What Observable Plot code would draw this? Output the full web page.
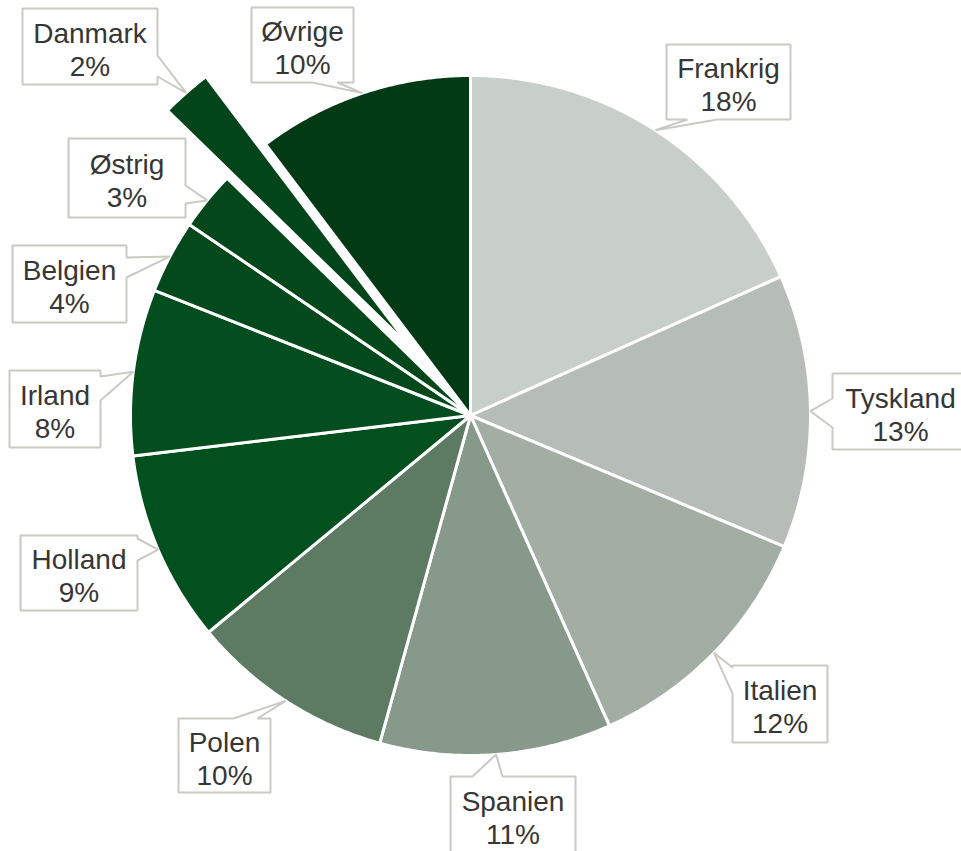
<!DOCTYPE html>
<html>
<head>
<meta charset="utf-8">
<script src="https://cdn.jsdelivr.net/npm/d3@7"></script>
<script src="https://cdn.jsdelivr.net/npm/@observablehq/plot@0.6"></script>
<style>
  html, body { margin: 0; padding: 0; background: #ffffff; }
  #chart svg { display: block; }
</style>
</head>
<body>
<div id="chart"></div>
<script>
// ---- data ----
const countries = ["Frankrig", "Tyskland", "Italien", "Spanien", "Polen", "Holland", "Irland", "Belgien", "Østrig", "Danmark", "Øvrige"];
const shares = [18.3, 13.0, 12.0, 11.0, 9.7, 9.1, 7.9, 3.5, 2.8, 2.4, 10.3];
const colors = ["#c8cec9", "#b6bdb6", "#a2ada3", "#86998a", "#5d7a63", "#03501f", "#044d1f", "#03491c", "#03471b", "#02451a", "#023a16"];
const exploded = ["Danmark"];

// ---- layout (pixels) ----
const W = 961, H = 851, CX = 470, CY = 415, R = 340, EXPLODE = 0.265;
// label boxes: left, right, top, bottom, side of pointer, pointer base start/end
const labelBoxes = {
  "Frankrig": {x0: 666, x1: 790, y0: 44,  y1: 119, side: "bottom", b0: 687, b1: 717},
  "Tyskland": {x0: 832, x1: 968, y0: 373, y1: 449, side: "left",   b0: 398, b1: 427},
  "Italien":  {x0: 732, x1: 827, y0: 665, y1: 742, side: "left",   b0: 667, b1: 693},
  "Spanien":  {x0: 450, x1: 575, y0: 776, y1: 853, side: "top",    b0: 472, b1: 502},
  "Polen":    {x0: 178, x1: 270, y0: 718, y1: 792, side: "top",    b0: 233, b1: 257},
  "Holland":  {x0: 20,  x1: 137, y0: 535, y1: 610, side: "right",  b0: 538, b1: 560},
  "Irland":   {x0: 9,   x1: 100, y0: 370, y1: 447, side: "right",  b0: 376, b1: 400},
  "Belgien":  {x0: 12,  x1: 126, y0: 245, y1: 322, side: "right",  b0: 257, b1: 277},
  "Østrig":   {x0: 68,  x1: 185, y0: 138, y1: 217, side: "right",  b0: 185, b1: 203},
  "Danmark":  {x0: 22,  x1: 157, y0: 8,   y1: 84,  side: "right",  b0: 55,  b1: 76},
  "Øvrige":   {x0: 251, x1: 353, y0: 7,   y1: 82,  side: "bottom", b0: 312, b1: 337}
};

const ux = px => (px - CX) / R;
const uy = py => (py - CY) / R;

// ---- slices ----
const slicePts = [];
const tips = {};
let cum = 0;
countries.forEach((name, i) => {
  const a0 = cum / 100 * 2 * Math.PI;
  cum += shares[i];
  const a1 = cum / 100 * 2 * Math.PI;
  const mid = (a0 + a1) / 2;
  const off = exploded.includes(name) ? EXPLODE : 0;
  const ox = off * Math.sin(mid), oy = -off * Math.cos(mid);
  const pts = [[ox, oy]];
  const n = Math.max(4, Math.ceil((a1 - a0) / (Math.PI / 360)));
  for (let k = 0; k <= n; k++) {
    const a = a0 + (a1 - a0) * k / n;
    pts.push([ox + Math.sin(a), oy - Math.cos(a)]);
  }
  pts.push([ox, oy]);
  pts.forEach(p => slicePts.push({name, x: p[0], y: p[1], fill: colors[i]}));
  tips[name] = [ox + Math.sin(mid), oy - Math.cos(mid)];
});

// ---- callouts ----
const calloutPts = [];
const labels = [];
countries.forEach((name, i) => {
  const b = labelBoxes[name];
  const t = tips[name];
  const tp = [t[0] * R + CX, t[1] * R + CY];
  const pts = [];
  pts.push([b.x0, b.y0]);
  if (b.side === "top") { pts.push([b.b0, b.y0], tp, [b.b1, b.y0]); }
  pts.push([b.x1, b.y0]);
  if (b.side === "right") { pts.push([b.x1, b.b0], tp, [b.x1, b.b1]); }
  pts.push([b.x1, b.y1]);
  if (b.side === "bottom") { pts.push([b.b1, b.y1], tp, [b.b0, b.y1]); }
  pts.push([b.x0, b.y1]);
  if (b.side === "left") { pts.push([b.x0, b.b1], tp, [b.x0, b.b0]); }
  pts.push([b.x0, b.y0]);
  pts.forEach(p => calloutPts.push({name, x: ux(p[0]), y: uy(p[1])}));
  labels.push({
    name,
    x: ux((b.x0 + b.x1) / 2),
    y: uy((b.y0 + b.y1) / 2 + 2),
    text: name + "\n" + Math.round(shares[i]) + "%"
  });
});

const chart = Plot.plot({
  width: W,
  height: H,
  margin: 0,
  x: {domain: [ux(0), ux(W)], range: [0, W], axis: null},
  y: {domain: [uy(0), uy(H)], range: [0, H], axis: null},
  color: {type: "identity"},
  style: {background: "#ffffff", fontFamily: "'Liberation Sans', Arial, sans-serif"},
  marks: [
    Plot.line(slicePts, {x: "x", y: "y", z: "name", fill: "fill", stroke: "#ffffff", strokeWidth: 3, strokeLinejoin: "round", curve: "linear"}),
    Plot.line(calloutPts, {x: "x", y: "y", z: "name", fill: "#ffffff", stroke: "#cacac4", strokeWidth: 2, strokeLinejoin: "miter", curve: "linear"}),
    Plot.text(labels, {x: "x", y: "y", text: "text", fontSize: 28, lineHeight: 1.19, fill: "#363636", textAnchor: "middle", lineAnchor: "middle", fontFamily: "'Liberation Sans', Arial, sans-serif"})
  ]
});
document.getElementById("chart").appendChild(chart);
</script>
</body>
</html>
